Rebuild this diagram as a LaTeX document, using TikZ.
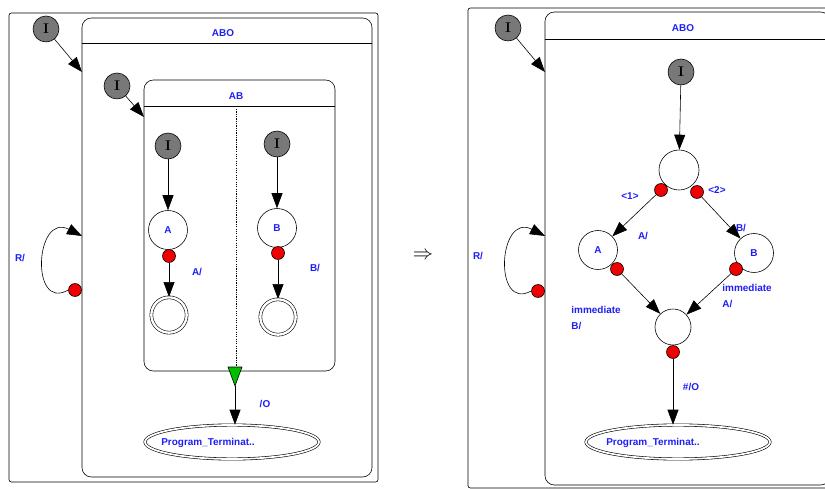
\documentclass[tikz,border=0pt]{standalone}
\usepackage{fontspec}
\setsansfont{Liberation Sans}
\usepackage{xcolor}
\usetikzlibrary{arrows.meta, positioning, calc, shapes.geometric}
\definecolor{lblue}{RGB}{30,30,245}
\definecolor{igray}{RGB}{120,120,120}
\definecolor{dotred}{RGB}{240,0,0}
\definecolor{escgreen}{RGB}{0,190,0}
\tikzset{
    init/.style={
        circle,
        draw=black,
        fill=igray,
        minimum size=7.8mm,
        inner sep=0pt,
        font=\rmfamily\bfseries\large,
    },
    state/.style={
        circle,
        draw=black,
        fill=white,
        minimum size=11.7mm,
        inner sep=0pt,
        text=lblue,
        font=\sffamily\bfseries\fontsize{8.5}{10}\selectfont,
    },
    final/.style={
        circle,
        draw=black,
        double,
        double distance=2pt,
        minimum size=10.6mm,
        inner sep=0pt,
    },
    exitdot/.style={
        circle,
        draw=black,
        fill=dotred,
        minimum size=3.9mm,
        inner sep=0pt,
    },
    terminal/.style={
        ellipse,
        draw=black,
        double,
        double distance=1.5pt,
        minimum height=10.2mm,
        inner sep=0pt,
    },
    lbl/.style={
        text=lblue,
        inner sep=1pt,
        font=\sffamily\bfseries\fontsize{8.5}{10}\selectfont,
    },
    frame/.style={draw=black, rounded corners=2pt},
    region/.style={draw=black, rounded corners=8pt},
    divider/.style={draw=black, line width=0.3pt, dash pattern=on 1pt off 1pt},
}

\begin{document}
\begin{tikzpicture}[x=0.03cm,y=-0.03cm,>={Triangle[length=4.5mm,width=3.3mm]},line width=0.5pt]
          \useasboundingbox (0,0) rectangle (825,489);
          \clip (0,0) rectangle (825,489);

          % left: before
          \draw [frame] (9,13) rectangle (378,482);
          \draw [region] (82,18) rectangle (372,477);
          \draw (82,43) -- (372,43);
          \node [lbl] (aboL) at (223,33) {ABO};
          \draw [region] (144,80) rectangle (335,371);
          \draw (144,106) -- (335,106);
          \node [lbl] (abL) at (236,96) {AB};
          \draw [divider] (236,109) -- (236,367);

          \coordinate (aboL-in) at (82,72);
          \coordinate (abL-in) at (144,117);
          \coordinate (loopL-in) at (82,236);
          \coordinate (esc) at (235,386);

          \node [init] (i0) at (46,29) {I};
          \node [init] (i1) at (117,86) {I};
          \node [init] (iA) at (168,146) {I};
          \node [init] (iB) at (277,144) {I};

          \node [state] (A) at (168,230) {A};
          \node [state] (B) at (277,228) {B};
          \node [final] (fA) at (169,315) {};
          \node [final] (fB) at (278,317) {};
          \node [exitdot] (dA) at (169,256) {};
          \node [exitdot] (dB) at (278,253) {};
          \node [exitdot] (dR) at (75,290) {};
          \node [terminal, minimum width=52.2mm] (termL) at (232,442) {};
          \node [lbl] (termL-txt) at (208,443) {Program\_Terminat..};

          \path[->] (i0) edge (aboL-in);
          \path[->] (i1) edge (abL-in);
          \path[->] (iA) edge (A);
          \path[->] (iB) edge (B);
          \path[->] (dA) edge (fA);
          \path[->] (dB) edge (fB);
          \draw[->] (dR.west) .. controls (30,312) and (35,212) .. (loopL-in);
          \draw[fill=escgreen] (228,367) -- (242,367) -- (esc) -- cycle;
          \draw[->] (esc) -- (esc |- termL.north);

          \node [lbl] (lA) at (197,272) {A/};
          \node [lbl] (lB) at (315,268) {B/};
          \node [lbl] (lO) at (265,404) {/O};
          \node [lbl] (lR) at (20,258) {R/};

          \node (impl) at (423,256) {\LARGE$\Rightarrow$};

          % right: after
          \draw [frame] (468,8) rectangle (845,488);
          \draw [region] (545,12) rectangle (830,485);
          \draw (545,39) -- (830,39);
          \node [lbl] (aboR) at (683,28) {ABO};

          \coordinate (aboR-in) at (545,72);
          \coordinate (loopR-in) at (545,236);

          \node [init] (j0) at (508,28) {I};
          \node [init] (jC) at (681,72) {I};

          \node [state, minimum size=12mm] (ch) at (679,170) {};
          \node [state] (A2) at (598,250) {A};
          \node [state] (B2) at (754,253) {B};
          \node [state, minimum size=10.8mm] (jn) at (673,327) {};
          \node [exitdot] (d1) at (661,190) {};
          \node [exitdot] (d2) at (697,192) {};
          \node [exitdot] (dA2) at (617,269) {};
          \node [exitdot] (dB2) at (736,269) {};
          \node [exitdot] (dJ) at (673,352) {};
          \node [exitdot] (dR2) at (538,291) {};
          \node [terminal, minimum width=55.2mm] (termR) at (678,442) {};
          \node [lbl] (termR-txt) at (653,443) {Program\_Terminat..};

          \path[->] (j0) edge (aboR-in);
          \path[->] (jC) edge (ch);
          \path[->] (d1) edge (A2);
          \path[->] (d2) edge (B2);
          \path[->] (dA2) edge (jn);
          \path[->] (dB2) edge (jn);
          \draw[->] (dJ) -- (dJ |- termR.north);
          \draw[->] (dR2.west) .. controls (493,312) and (498,212) .. (loopR-in);

          \node [lbl] (l1) at (630,196) {<1>};
          \node [lbl] (l2) at (717,190) {<2>};
          \node [lbl] (lA2) at (643,236) {A/};
          \node [lbl] (lB2) at (741,228) {B/};
          \node [lbl, align=left, anchor=west] (lImB) at (570,318) {immediate\\[4pt]B/};
          \node [lbl, align=left, anchor=west] (lImA) at (721,296) {immediate\\[4pt]A/};
          \node [lbl] (lO2) at (691,387) {\#/O};
          \node [lbl] (lR2) at (478,256) {R/};
        \end{tikzpicture}
\end{document}
